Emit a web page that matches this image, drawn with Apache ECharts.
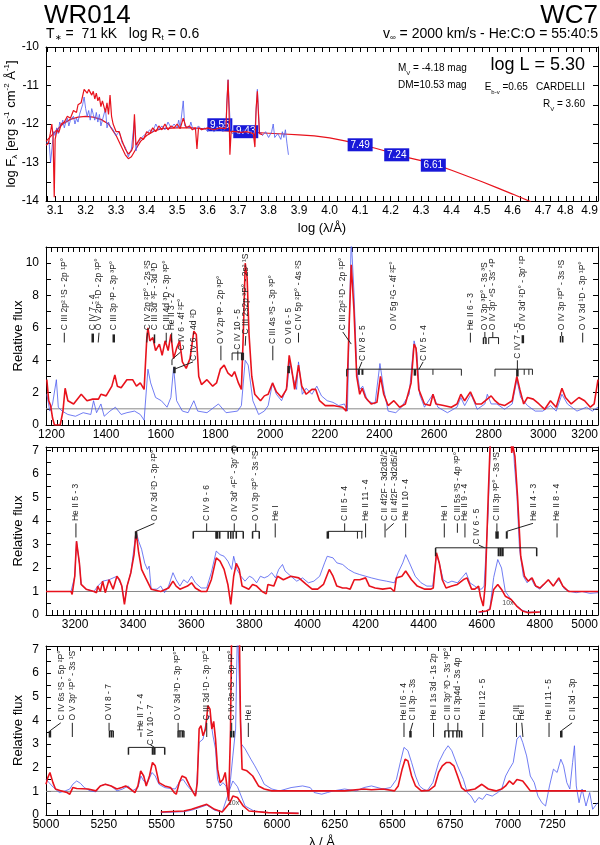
<!DOCTYPE html>
<html>
<head>
<meta charset="utf-8">
<script src="https://cdn.jsdelivr.net/npm/echarts@6/dist/echarts.min.js"></script>
<style>
html, body { margin: 0; padding: 0; background: #fff; }
#chart { width: 600px; height: 845px; }
</style>
</head>
<body>
<div id="chart"></div>
<script>
// ---------- panel 1 : spectral energy distribution (log lambda, log F) ----------
var sedObs = [[3.07,-12.5],[3.08,-12.45],[3.085,-13.0],[3.09,-12.6],[3.095,-12.2],[3.1,-12.3],[3.105,-12.1],[3.11,-12.25],[3.115,-11.95],[3.12,-12.05],[3.125,-11.9],[3.13,-12.1],[3.135,-11.95],[3.14,-11.85],[3.145,-12.05],[3.15,-11.9],[3.155,-11.95],[3.16,-11.8],[3.165,-12.0],[3.17,-11.85],[3.175,-11.95],[3.18,-11.75],[3.185,-11.8],[3.19,-11.5],[3.195,-11.3],[3.2,-11.6],[3.205,-11.8],[3.21,-11.65],[3.215,-11.9],[3.22,-11.6],[3.225,-11.75],[3.23,-11.9],[3.235,-11.7],[3.24,-11.95],[3.245,-11.75],[3.25,-12.05],[3.255,-11.9],[3.26,-11.85],[3.265,-11.6],[3.27,-12.1],[3.275,-11.95],[3.28,-12.05],[3.29,-12.15],[3.3,-12.3],[3.31,-12.2],[3.32,-12.5],[3.33,-12.6],[3.34,-12.85],[3.35,-12.65],[3.36,-11.9],[3.365,-12.7],[3.37,-12.5],[3.38,-12.4],[3.39,-12.3],[3.4,-12.25],[3.41,-12.15],[3.42,-12.2],[3.43,-12.0],[3.44,-12.15],[3.45,-12.05],[3.46,-12.15],[3.47,-11.95],[3.48,-12.1],[3.49,-12.0],[3.5,-12.1],[3.505,-11.9],[3.51,-12.1],[3.52,-11.4],[3.525,-12.05],[3.53,-12.0],[3.54,-12.1],[3.545,-11.95],[3.55,-12.1],[3.56,-12.15],[3.57,-12.05],[3.58,-12.15],[3.59,-12.1],[3.6,-12.2],[3.61,-12.1],[3.62,-12.2],[3.63,-12.15],[3.64,-12.1],[3.65,-12.2],[3.66,-12.1],[3.663,-11.4],[3.667,-10.85],[3.67,-11.4],[3.675,-12.1],[3.68,-12.25],[3.69,-12.2],[3.7,-12.25],[3.71,-12.2],[3.72,-12.15],[3.73,-12.25],[3.74,-12.2],[3.75,-12.3],[3.755,-12.2],[3.76,-11.5],[3.763,-11.1],[3.767,-11.7],[3.77,-12.2],[3.78,-12.3],[3.79,-12.2],[3.8,-12.35],[3.81,-12.2],[3.815,-12.0],[3.82,-12.35],[3.83,-12.25],[3.84,-12.4],[3.845,-12.2],[3.85,-12.35],[3.855,-12.15],[3.86,-12.5],[3.865,-12.8]];
var sedModel = [[3.07,-12.55],[3.078,-12.5],[3.084,-12.25],[3.089,-12.0],[3.093,-12.3],[3.097,-13.9],[3.1,-12.4],[3.106,-12.15],[3.112,-12.22],[3.12,-12.0],[3.13,-11.95],[3.14,-11.8],[3.15,-11.85],[3.16,-11.65],[3.17,-11.7],[3.175,-11.5],[3.18,-11.55],[3.185,-11.45],[3.19,-11.5],[3.195,-11.1],[3.2,-11.05],[3.205,-11.2],[3.21,-11.1],[3.215,-11.15],[3.22,-11.25],[3.225,-11.15],[3.23,-11.35],[3.235,-11.2],[3.24,-11.4],[3.245,-11.3],[3.25,-11.55],[3.255,-11.4],[3.26,-11.45],[3.265,-11.7],[3.27,-11.45],[3.275,-11.75],[3.28,-11.25],[3.285,-11.8],[3.29,-12.0],[3.3,-12.2],[3.31,-12.2],[3.32,-12.45],[3.33,-12.65],[3.34,-12.78],[3.35,-12.7],[3.355,-12.6],[3.36,-11.75],[3.365,-12.55],[3.37,-12.5],[3.38,-12.35],[3.39,-12.4],[3.4,-12.2],[3.41,-12.25],[3.42,-12.1],[3.43,-12.2],[3.44,-12.05],[3.45,-12.15],[3.46,-12.0],[3.47,-12.15],[3.48,-12.05],[3.49,-12.1],[3.5,-12.0],[3.51,-12.12],[3.52,-11.85],[3.53,-12.1],[3.54,-12.05],[3.55,-12.15],[3.56,-12.1],[3.565,-12.65],[3.57,-12.1],[3.58,-12.15],[3.6,-12.1],[3.62,-12.15],[3.64,-12.1],[3.66,-12.12],[3.663,-11.5],[3.667,-10.85],[3.67,-11.6],[3.673,-12.8],[3.677,-12.2],[3.69,-12.2],[3.71,-12.22],[3.73,-12.2],[3.75,-12.25],[3.755,-12.6],[3.759,-11.6],[3.763,-11.15],[3.767,-11.8],[3.77,-12.25],[3.78,-12.28]];
var sedCont = [[3.07,-12.45],[3.1,-12.2],[3.125,-12.0],[3.15,-11.88],[3.175,-11.82],[3.2,-11.8],[3.225,-11.82],[3.25,-11.88],[3.275,-12.0],[3.3,-12.3],[3.315,-12.55],[3.33,-12.8],[3.34,-12.9],[3.35,-12.85],[3.365,-12.65],[3.38,-12.45],[3.4,-12.3],[3.425,-12.18],[3.45,-12.12],[3.5,-12.1],[3.55,-12.1],[3.6,-12.13],[3.65,-12.17],[3.7,-12.2],[3.75,-12.22],[3.8,-12.24],[3.85,-12.26],[3.9,-12.28],[3.95,-12.31],[4.0,-12.36],[4.05,-12.44],[4.1,-12.53],[4.15,-12.63],[4.2,-12.74],[4.25,-12.86],[4.3,-12.95],[4.35,-13.06],[4.4,-13.2],[4.45,-13.35],[4.5,-13.5],[4.55,-13.66],[4.6,-13.82],[4.66,-14.02]];
var photLam = [3.64, 3.725, 4.1, 4.22, 4.34];
var photFlux = [-12.02, -12.2, -12.54, -12.8, -13.07];
var photMag = ['9.55', '9.43', '7.49', '7.24', '6.61'];

// ---------- panel 2 : UV 1180 - 3200 A ----------
var obs2 = [[1183,1.9],[1194,0.86],[1204,1.3],[1218,2.8],[1225,1.1],[1239,0.86],[1260,0.65],[1288,0.54],[1316,0.76],[1344,0.65],[1354,1.5],[1365,0.76],[1381,1.3],[1393,0.54],[1414,0.86],[1434,1.1],[1455,0.65],[1476,0.76],[1504,0.86],[1525,0.65],[1539,0.3],[1546,0.3],[1553,3.45],[1563,2.6],[1581,1.7],[1602,1.5],[1623,1.1],[1637,1.7],[1647,3.55],[1658,1.5],[1679,0.86],[1700,0.76],[1721,1.5],[1735,0.86],[1769,0.76],[1811,1.3],[1839,0.76],[1881,0.86],[1895,1.2],[1909,4.0],[1920,3.7],[1937,1.5],[1958,0.65],[1979,0.86],[1993,1.2],[2009,2.6],[2023,1.9],[2042,1.5],[2063,2.4],[2071,3.9],[2083,3.0],[2097,2.2],[2104,3.9],[2118,1.9],[2132,2.27],[2153,1.9],[2171,2.4],[2188,1.8],[2209,1.5],[2230,1.4],[2251,1.2],[2272,1.3],[2283,0.86],[2289,5.6],[2297,11.5],[2307,8.2],[2317,3.45],[2328,2.2],[2339,2.4],[2356,1.5],[2384,1.3],[2402,3.8],[2416,2.2],[2432,0.86],[2460,0.76],[2481,1.1],[2509,1.9],[2527,5.2],[2537,4.5],[2547,1.9],[2565,1.1],[2596,1.9],[2614,1.1],[2649,0.76],[2684,1.1],[2698,1.7],[2712,1.2],[2735,1.9],[2758,0.97],[2786,1.3],[2795,1.9],[2809,1.3],[2830,1.3],[2858,0.97],[2886,1.3],[2903,2.8],[2917,1.7],[2942,1.2],[2970,0.86],[2998,0.86],[3026,1.2],[3047,0.86],[3068,1.9],[3088,1.3],[3123,0.86],[3158,1.1],[3179,0.86],[3200,1.1]];
var mod2 = [[1183,2.8],[1190,1.5],[1197,1.2],[1204,0.43],[1211,0],[1232,0],[1242,0.86],[1250,2.27],[1260,1.5],[1281,1.3],[1309,1.9],[1330,1.5],[1351,1.6],[1372,1.6],[1381,1.9],[1400,1.8],[1421,2.4],[1432,3.1],[1441,2.4],[1455,2.3],[1476,2.8],[1497,2.8],[1511,2.4],[1525,2.6],[1539,2.2],[1546,2.2],[1549,5.4],[1553,6.0],[1560,5.2],[1571,5.4],[1581,4.6],[1595,5.0],[1605,4.3],[1616,5.2],[1627,4.6],[1637,5.6],[1647,4.1],[1658,4.75],[1669,5.2],[1679,3.9],[1693,3.5],[1707,4.1],[1721,5.8],[1730,5.6],[1739,3.0],[1749,2.5],[1769,2.8],[1790,2.4],[1804,2.6],[1818,3.45],[1832,3.7],[1846,3.2],[1860,3.0],[1870,3.3],[1884,2.6],[1895,2.2],[1902,5.6],[1909,10.0],[1916,9.1],[1923,5.6],[1933,3.0],[1944,1.9],[1965,1.5],[1979,1.8],[1993,1.9],[2009,2.6],[2023,2.05],[2042,1.7],[2060,2.2],[2070,4.3],[2079,3.45],[2090,2.2],[2104,3.7],[2116,2.4],[2132,1.9],[2153,2.2],[2167,2.2],[2181,1.5],[2202,1.2],[2230,1.2],[2265,1.1],[2279,0.86],[2286,4.5],[2297,9.9],[2307,7.1],[2317,3.0],[2328,1.9],[2337,2.27],[2349,1.7],[2370,1.3],[2391,1.4],[2404,3.0],[2416,1.9],[2432,1.2],[2453,1.5],[2474,1.1],[2495,1.3],[2516,2.6],[2527,5.0],[2534,4.75],[2544,2.2],[2565,1.3],[2586,1.2],[2596,1.9],[2607,1.3],[2635,1.2],[2663,1.1],[2684,1.3],[2698,1.9],[2712,1.5],[2733,2.05],[2753,1.3],[2774,1.3],[2788,1.5],[2809,1.8],[2823,1.5],[2837,1.3],[2858,1.2],[2886,1.5],[2903,3.0],[2914,2.2],[2928,1.3],[2942,1.7],[2963,1.6],[2984,1.3],[3005,0.97],[3026,1.5],[3047,1.1],[3068,2.27],[3081,1.7],[3102,1.3],[3130,1.7],[3151,1.5],[3172,1.1],[3186,1.3],[3200,2.8]];

// ---------- panel 3 : 3100 - 5000 A ----------
var obs3 = [[3100,1.0],[3186,1.0],[3199,1.65],[3205,3.14],[3215,2.2],[3221,1.3],[3238,1.1],[3265,1.0],[3278,1.23],[3295,1.44],[3317,1.5],[3344,1.65],[3361,1.23],[3370,0.52],[3379,1.23],[3392,1.8],[3410,3.56],[3419,3.14],[3429,2.8],[3440,2.2],[3449,1.94],[3455,2.08],[3462,1.1],[3482,1.1],[3495,1.23],[3508,0.95],[3522,1.23],[3537,1.8],[3548,1.5],[3561,1.23],[3574,1.5],[3587,1.37],[3601,1.65],[3614,1.37],[3634,1.15],[3653,1.15],[3669,1.8],[3686,2.72],[3699,2.57],[3713,2.5],[3726,2.29],[3739,1.94],[3746,2.5],[3757,1.94],[3771,1.65],[3785,1.44],[3800,1.65],[3811,1.58],[3825,1.37],[3838,1.65],[3851,1.58],[3864,1.65],[3877,1.8],[3890,1.58],[3901,1.94],[3914,2.15],[3923,1.87],[3943,1.65],[3963,1.44],[3983,1.58],[4003,1.37],[4022,1.44],[4042,1.65],[4059,2.22],[4068,2.5],[4088,2.43],[4101,2.22],[4121,2.15],[4141,1.94],[4161,1.8],[4180,1.72],[4200,1.65],[4220,1.58],[4246,1.5],[4272,1.44],[4299,1.37],[4312,1.8],[4328,2.22],[4338,2.57],[4351,2.22],[4371,1.65],[4391,1.37],[4411,1.23],[4431,1.23],[4444,2.57],[4454,2.2],[4467,1.5],[4483,1.37],[4497,1.44],[4516,1.37],[4536,1.65],[4546,1.8],[4559,1.37],[4576,1.23],[4589,1.1],[4599,1.1],[4608,1.23],[4622,4.34],[4631,8],[4705,8],[4712,6.46],[4721,5.05],[4730,2.79],[4743,1.65],[4756,1.37],[4769,1.58],[4783,1.23],[4800,1.1],[4829,1.5],[4846,1.23],[4865,1.5],[4885,1.1],[4905,1.0],[4925,0.95],[4945,1.0],[4972,0.92],[5000,0.95]];
var mod3 = [[3100,1.0],[3186,1.0],[3190,0.88],[3199,1.65],[3205,3.14],[3215,2.2],[3221,1.3],[3238,1.1],[3265,1.0],[3274,0.95],[3278,1.23],[3287,1.0],[3295,1.44],[3304,0.95],[3317,1.5],[3331,1.1],[3344,1.65],[3353,1.5],[3361,1.23],[3370,0.45],[3379,1.23],[3392,1.8],[3403,2.57],[3410,3.56],[3419,2.65],[3429,1.94],[3443,1.58],[3462,1.1],[3495,1.0],[3522,1.15],[3537,1.44],[3548,1.23],[3561,1.1],[3587,1.23],[3601,1.37],[3614,1.15],[3634,1.0],[3653,1.0],[3669,1.5],[3686,2.43],[3699,2.29],[3713,1.94],[3726,1.3],[3736,0.45],[3746,1.65],[3755,2.2],[3765,1.94],[3775,1.23],[3798,1.1],[3811,1.3],[3825,1.23],[3844,1.0],[3858,0.9],[3864,1.3],[3884,1.23],[3897,1.65],[3917,1.5],[3943,1.65],[3970,1.58],[3996,1.3],[4016,1.1],[4035,1.1],[4055,1.3],[4075,1.94],[4088,1.65],[4101,1.23],[4121,1.15],[4134,1.15],[4147,1.1],[4161,1.5],[4180,1.5],[4200,1.58],[4213,1.23],[4233,1.15],[4259,1.1],[4286,1.15],[4299,1.0],[4306,1.58],[4325,1.65],[4338,1.87],[4358,1.5],[4378,1.23],[4404,1.1],[4424,1.1],[4433,1.15],[4444,2.65],[4454,2.2],[4464,1.5],[4477,1.15],[4497,1.23],[4516,1.3],[4536,1.5],[4549,1.58],[4565,1.1],[4576,1.1],[4589,1.23],[4595,0.8],[4605,0.38],[4612,1.3],[4622,5.0],[4631,8],[4700,8],[4703,6.9],[4707,7.2],[4714,6.75],[4723,5.05],[4734,2.5],[4747,1.65],[4760,1.44],[4773,1.58],[4786,1.23],[4800,1.15],[4813,1.3],[4829,1.5],[4846,1.23],[4865,1.58],[4879,1.23],[4899,1.0],[4918,1.0],[4945,1.0],[5000,1.0]];
var obs3x10 = [[4589,0.1],[4615,0.15],[4628,0.3],[4641,1.6],[4655,2.36],[4668,2.0],[4681,1.0],[4701,0.66],[4720,0.4],[4740,0.2],[4760,0.12],[4800,0.12]];
var mod3x10 = [[4589,0.13],[4615,0.17],[4628,0.24],[4641,1.09],[4655,1.3],[4668,1.09],[4681,0.8],[4701,0.66],[4720,0.38],[4740,0.17],[4760,0.1],[4800,0.13]];

// ---------- panel 4 : 5000 - 7390 A ----------
var obs4 = [[5000,1.51],[5013,1.37],[5033,1.16],[5058,0.95],[5083,1.02],[5103,1.1],[5116,1.3],[5133,1.44],[5149,1.34],[5166,1.16],[5191,1.02],[5216,0.98],[5235,1.23],[5257,1.3],[5282,1.23],[5307,1.02],[5332,1.1],[5356,1.23],[5373,1.02],[5398,1.16],[5411,1.65],[5423,1.44],[5439,1.37],[5459,1.8],[5473,1.65],[5489,1.3],[5514,1.16],[5539,1.12],[5560,1.1],[5580,1.44],[5594,1.5],[5613,1.23],[5638,0.95],[5650,0.88],[5663,3.07],[5680,3.21],[5696,4.06],[5710,4.2],[5723,3.35],[5734,2.79],[5743,1.5],[5754,1.23],[5766,1.37],[5779,1.23],[5791,0.8],[5799,1.51],[5809,2.5],[5821,3.64],[5829,8],[5837,8],[5846,3.0],[5862,2.8],[5887,2.36],[5904,2.08],[5928,1.65],[5945,1.3],[5978,1.1],[6011,1.02],[6061,1.16],[6111,1.23],[6144,1.16],[6161,0.95],[6194,0.88],[6219,0.95],[6244,1.02],[6293,1.1],[6343,1.02],[6376,1.16],[6409,1.23],[6459,1.1],[6492,1.16],[6517,1.5],[6534,2.22],[6550,2.86],[6567,2.72],[6583,2.22],[6600,1.65],[6617,1.23],[6633,1.1],[6650,1.02],[6675,1.37],[6700,2.22],[6724,2.69],[6741,2.93],[6757,2.72],[6782,2.08],[6807,1.51],[6824,0.95],[6840,0.8],[6857,0.52],[6874,0.74],[6890,0.66],[6907,0.88],[6932,0.8],[6956,0.95],[6973,1.1],[6990,1.65],[7006,1.94],[7023,2.22],[7039,3.21],[7053,3.36],[7064,3.07],[7081,2.5],[7097,1.65],[7114,1.37],[7130,0.8],[7147,0.52],[7163,0.38],[7180,1.23],[7197,1.94],[7213,1.8],[7229,2.36],[7241,2.08],[7255,1.37],[7268,1.1],[7280,2.22],[7288,2.93],[7296,1.23],[7308,0.52],[7321,1.1],[7338,0.38],[7354,0.95],[7367,0.24],[7388,0.52]];
var mod4 = [[5000,1.3],[5008,1.58],[5017,1.8],[5030,1.37],[5041,1.1],[5066,1.02],[5091,0.95],[5103,0.88],[5116,1.16],[5133,1.12],[5182,1.1],[5216,1.02],[5235,1.23],[5257,1.3],[5282,1.23],[5307,1.1],[5328,1.16],[5345,1.23],[5365,1.1],[5385,0.95],[5398,1.23],[5410,1.87],[5423,1.65],[5434,1.23],[5448,1.65],[5461,2.22],[5473,2.08],[5489,1.37],[5514,1.23],[5539,1.16],[5555,0.95],[5564,0.88],[5577,1.37],[5589,1.65],[5605,1.58],[5622,1.23],[5638,0.95],[5647,0.8],[5655,1.37],[5663,3.64],[5671,3.78],[5680,3.35],[5691,3.64],[5701,4.63],[5710,4.48],[5718,3.64],[5726,3.96],[5734,3.21],[5743,1.94],[5754,1.37],[5766,1.5],[5776,1.8],[5783,1.23],[5791,0.6],[5799,3.64],[5804,8],[5837,8],[5842,4.0],[5849,1.94],[5870,1.87],[5895,1.65],[5920,1.23],[5945,1.1],[5978,1.02],[6127,1.02],[6293,1.02],[6376,1.1],[6409,1.07],[6459,1.1],[6509,1.02],[6525,1.23],[6542,1.94],[6555,2.36],[6567,2.29],[6583,1.65],[6600,1.23],[6625,1.02],[6658,1.04],[6683,1.23],[6700,1.8],[6716,2.08],[6733,2.22],[6749,2.22],[6766,2.08],[6782,1.65],[6799,1.16],[6816,1.02],[6857,1.1],[6887,1.3],[6915,1.1],[6948,1.02],[6973,1.1],[6990,1.23],[7006,1.44],[7023,1.3],[7039,1.5],[7064,1.44],[7081,1.23],[7097,1.02],[7122,1.02],[7338,1.02]];
var obs4x10 = [[5497,0.1],[5597,0.14],[5630,0.2],[5696,0.42],[5730,0.2],[5763,0.13],[5796,1.09],[5809,1.44],[5829,1.2],[5862,0.38],[5900,0.17],[5962,0.1],[6094,0.08]];
var mod4x10 = [[5497,0.13],[5597,0.17],[5630,0.24],[5696,0.45],[5730,0.24],[5763,0.13],[5796,0.52],[5809,0.8],[5829,0.74],[5854,0.38],[5879,0.17],[5962,0.1],[6094,0.07]];

// ---------- line identifications ----------
var idLam2 = [1247,1351,1374,1428,1551,1577,1620,1640,1675,1722,1820,1882,1911,2010,2068,2104,2264,2338,2453,2563,2733,2787,2815,2905,2925,3068,3144];
var idY2 = [5.85,5.85,5.85,5.85,5.85,5.85,5.85,5.85,4.6,3.95,5.0,4.65,5.6,5.0,5.0,5.85,5.85,3.95,5.85,3.95,5.85,5.85,5.85,4.1,5.85,5.85,5.85];
var idText2 = ['C III 2p² ¹S - 2p ¹P°','C IV 7 - 4','O V 2p² ¹D - 2p ¹P°','C III 3p ³P - 3p ³P°','C IV 2p ²P° - 2s ²S',"C III 3d' ³F - 3d ³D",'C III 4d ³D - 3p ³P°','He II 3 - 2','C IV 6 - 4f ²F°','C IV 6 - 4d ²D','O V 2p ³P - 2p ³P°','C IV 10 - 5','C III 2s2p ³P° - 2s² ¹S','C III 4s ³S - 3p ³P°','O VI 6 - 5','C IV 5p ²P° - 4s ²S','C III 2p² ¹D - 2p ¹P°','C IV 8 - 5','O IV 5g ²G - 4f ²F°','C IV 5 - 4','He II 6 - 3','O V 3p ³P° - 3s ³S',"O IV 3p' ⁴S - 3s' ⁴P",'C IV 7 - 5',"O IV 3d' ²D° - 3p' ²P",'O IV 3p ²P° - 3s ²S','O V 3d ¹D - 3p ¹P°'];
var seg2 = [[1247,5.1,1247,5.7,1],[1351,5.1,1351,5.65,2.5],[1371,5.1,1374,5.7,1],[1428,5.1,1428,5.6,2.5],[1549,5.1,1551,5.7,1],[1577,5.05,1577,5.6,1.5],[1620,5.1,1620,5.7,1],[1640,5.1,1640,5.7,1],[1641,3.7,1641,4.05,1],[1641,4.05,1672,4.5,1],[1650,3.2,1650,3.6,2.5],[1650,3.45,1718,3.9,1],[1820,4.0,1820,4.9,1],[1861,4.45,1903,4.45,1],[1861,4.45,1861,4.0,1],[1882,4.45,1882,4.0,1],[1897,4.45,1897,4.0,2],[1903,4.45,1903,4.0,1],[1882,4.45,1882,4.6,1],[1909,4.9,1911,5.5,1],[2010,4.0,2010,4.9,1],[2068,3.2,2068,3.65,2.5],[2104,5.1,2104,5.7,1],[2297,5.0,2266,5.75,1],[2280,3.45,2700,3.45,1],[2280,3.45,2280,3.0,1],[2325,3.45,2325,3.1,2],[2338,3.45,2338,3.1,2],[2530,3.45,2530,3.05,2.5],[2596,3.45,2596,3.1,1],[2700,3.45,2700,3.05,1],[2325,3.45,2336,3.9,1],[2545,3.45,2560,3.9,1],[2733,5.1,2733,5.7,1],[2781,5.0,2781,5.4,1.5],[2790,5.0,2790,5.4,1.5],[2781,5.4,2790,5.4,1],[2786,5.4,2786,5.75,1],[2800,5.0,2800,5.4,1],[2836,5.0,2836,5.4,1],[2800,5.4,2836,5.4,1],[2815,5.4,2815,5.75,1],[2823,3.45,2960,3.45,1],[2823,3.45,2823,3.0,1],[2905,3.45,2905,3.0,2.5],[2930,3.45,2930,3.1,1],[2947,3.45,2947,3.1,1],[2960,3.45,2960,3.1,1],[2905,3.45,2905,4.0,1],[2925,5.05,2925,5.55,2.5],[3063,5.1,3063,5.5,1.5],[3071,5.1,3071,5.5,1.5],[3067,5.5,3067,5.75,1],[3144,5.1,3144,5.7,1]];

var idLam3 = [3203,3475,3653,3748,3822,3889,4128,4200,4267,4299,4338,4471,4516,4542,4582,4652,4778,4859];
var idY3 = [4.0,4.0,4.0,4.0,4.0,4.0,4.0,4.0,4.0,4.0,4.0,4.0,4.0,4.0,3.0,4.0,4.0,4.0];
var idText3 = ['He II 5 - 3','O IV 3d ²D - 3p ²P°','C IV 9 - 6',"O IV 3d' ⁴F° - 3p' ⁴D",'O VI 3p ²P° - 3s ²S','He I','C III 5 - 4','He II 11 - 4','C II 4f2F - 3d2d3/2','C II 4f2F - 3d2d5/2','He II 10 - 4','He I','C III 5s ³S - 4p ³P°','He II 9 - 4','C IV 6 - 5','C III 3p ³P° - 3s ³S','He II 4 - 3','He II 8 - 4'];
var seg3 = [[3203,3.3,3203,3.9,1],[3410,3.25,3410,3.56,2.5],[3410,3.56,3473,3.9,1],[3607,3.56,3779,3.56,1],[3607,3.56,3607,3.25,1.5],[3686,3.56,3686,3.25,2],[3690,3.56,3690,3.25,2],[3698,3.56,3698,3.25,1.5],[3727,3.56,3727,3.25,1.5],[3736,3.56,3736,3.25,1.5],[3744,3.56,3744,3.25,1.5],[3755,3.56,3755,3.25,1.5],[3779,3.56,3779,3.25,1.5],[3653,3.56,3653,3.9,1],[3748,3.56,3748,3.9,1],[3811,3.25,3811,3.56,1.5],[3834,3.25,3834,3.56,1.5],[3811,3.56,3834,3.56,1],[3822,3.56,3822,3.9,1],[3889,3.3,3889,3.9,1],[4070,3.56,4190,3.56,1],[4070,3.56,4070,3.25,2.5],[4172,3.56,4172,3.25,1],[4187,3.56,4187,3.25,1],[4128,3.56,4128,3.9,1],[4200,3.3,4200,3.9,1],[4267,3.3,4267,3.9,1],[4270,3.6,4297,3.9,1],[4338,3.3,4338,3.9,1],[4471,3.3,4471,3.9,1],[4516,3.5,4516,3.9,1],[4542,3.3,4542,3.9,1],[4441,2.86,4789,2.86,1],[4441,2.86,4441,2.5,1.5],[4658,2.86,4658,2.5,2],[4665,2.86,4665,2.5,2],[4672,2.86,4672,2.5,2],[4789,2.86,4789,2.5,1.5],[4610,2.86,4590,2.97,1],[4650,3.25,4650,3.56,2],[4655,3.25,4655,3.56,2],[4652,3.56,4652,3.9,1],[4686,3.25,4686,3.56,2],[4686,3.56,4776,3.9,1],[4859,3.3,4859,3.9,1]];

var idLam4 = [5066,5114,5273,5411,5455,5572,5696,5804,5876,6550,6588,6678,6741,6783,6891,7037,7060,7178,7280];
var idY4 = [4.0,4.0,4.0,3.55,2.95,4.0,4.0,4.0,4.0,4.0,4.0,4.0,4.0,4.0,4.0,4.0,4.0,4.0,4.0];
var idText4 = ['C IV 6s ²S - 5p ²P°',"O V 3p' ¹P° - 3s ¹S",'O VI 8 - 7','He II 7 - 4','C IV 10 - 7','O V 3d ³D - 3p ³P°','C III 3d ¹D - 3p ¹P°','C IV 3s ²S - 3p ²P°','He I','He II 6 - 4','C II 3p - 3s','He I 1s 3d - 1s 2p',"C III 3p' ³D - 3s' ³P°",'C II 3p4d - 3s 4p','He II 12 - 5','C III','He I','He II 11 - 5','C II 3d - 3p'];
var seg4 = [[5017,3.28,5017,3.56,2.5],[5017,3.56,5064,3.9,1],[5114,3.3,5114,3.9,1],[5275,3.28,5275,3.56,1.5],[5283,3.28,5283,3.56,1.5],[5291,3.28,5291,3.56,1.5],[5275,3.56,5291,3.56,1],[5273,3.56,5273,3.9,1],[5411,3.3,5411,3.5,1],[5357,2.86,5514,2.86,1],[5357,2.86,5357,2.55,1.5],[5462,2.86,5462,2.55,2],[5470,2.86,5470,2.55,2],[5514,2.86,5514,2.55,1.5],[5470,2.86,5452,2.97,1],[5572,3.28,5572,3.56,1.5],[5580,3.28,5580,3.56,1.5],[5590,3.28,5590,3.56,1.5],[5597,3.28,5597,3.56,1.5],[5572,3.56,5597,3.56,1],[5572,3.56,5572,3.9,1],[5696,3.3,5696,3.9,1],[5801,3.28,5801,3.56,2],[5812,3.28,5812,3.56,2],[5804,3.56,5804,3.9,1],[5876,3.3,5876,3.9,1],[6550,3.3,6550,3.9,1],[6578,3.28,6578,3.56,2.5],[6578,3.56,6588,3.9,1],[6678,3.3,6678,3.9,1],[6727,3.28,6727,3.56,1.5],[6744,3.28,6744,3.56,1.5],[6762,3.28,6762,3.56,1.5],[6779,3.28,6779,3.56,1.5],[6790,3.28,6790,3.56,1.5],[6800,3.28,6800,3.56,1.5],[6727,3.56,6800,3.56,1],[6741,3.56,6741,3.9,1],[6783,3.56,6783,3.9,1],[6891,3.3,6891,3.9,1],[7037,3.3,7037,3.9,1],[7065,3.3,7060,3.9,1],[7178,3.3,7178,3.9,1],[7231,3.28,7231,3.56,2.5],[7231,3.56,7278,3.9,1]];

// ---------- tick labels ----------
var xLab1 = [3.1,3.2,3.3,3.4,3.5,3.6,3.7,3.8,3.9,4.0,4.1,4.2,4.3,4.4,4.5,4.6,4.7,4.8];
var xLab2 = [1200,1400,1600,1800,2000,2200,2400,2600,2800,3000,3200];
var xLab3 = [3200,3400,3600,3800,4000,4200,4400,4600,4800,5000];
var xLab4 = [5000,5250,5500,5750,6000,6250,6500,6750,7000,7250];
var yLab1 = [-14,-13,-12,-11,-10];
var yLab2 = [0,2,4,6,8,10];
var yLab34 = [0,1,2,3,4,5,6,7];

function steps(a, b, d) {
  var out = [];
  for (var v = a; v <= b + 1e-9; v += d) out.push(Math.round(v * 1000) / 1000);
  return out;
}

var FONT = 'Liberation Sans, Arial, Helvetica, sans-serif';
var RED = '#e8121c', BLUE = '#4c5cf0';

var grids = [
  { left: 46, top: 47, width: 552, height: 154 },
  { left: 46, top: 247, width: 552, height: 178 },
  { left: 46, top: 447, width: 552, height: 168 },
  { left: 46, top: 646, width: 552, height: 169 }
].map(function (g) { g.containLabel = false; g.outerBoundsMode = 'none'; return g; });

var xAxes = [], yAxes = [];
function addAxes(gi, xr, xLab, xTicks, yr, yLab, yTicks, xName, yName, yNameGap) {
  var line = { show: true, onZero: false, lineStyle: { color: '#000', width: 1 } };
  xAxes.push({
    gridIndex: gi, type: 'value', position: 'bottom', min: xr[0], max: xr[1],
    axisLine: line, splitLine: { show: false },
    axisTick: { inside: true, length: 5, customValues: xTicks, lineStyle: { color: '#000' } },
    axisLabel: { customValues: xLab, color: '#000', fontSize: 12, fontFamily: FONT, margin: 4,
      alignMaxLabel: 'right', formatter: function (v) { return gi === 0 ? v.toFixed(1) : String(v); } },
    name: xName, nameLocation: 'middle', nameGap: 21, nameMoveOverlap: false,
    nameTextStyle: { color: '#000', fontSize: 13, fontFamily: FONT }
  });
  xAxes.push({
    gridIndex: gi, type: 'value', position: 'top', min: xr[0], max: xr[1],
    axisLine: line, splitLine: { show: false }, axisLabel: { show: false },
    axisTick: { inside: true, length: 5, customValues: xTicks, lineStyle: { color: '#000' } }
  });
  yAxes.push({
    gridIndex: gi, type: 'value', position: 'left', min: yr[0], max: yr[1],
    axisLine: line, splitLine: { show: false },
    axisTick: { inside: true, length: 5, customValues: yTicks, lineStyle: { color: '#000' } },
    axisLabel: { customValues: yLab, color: '#000', fontSize: 12, fontFamily: FONT, margin: 7 },
    name: yName, nameLocation: 'middle', nameGap: yNameGap, nameRotate: 90, nameMoveOverlap: false,
    nameTextStyle: {
      color: '#000', fontSize: 13, fontFamily: FONT,
      rich: {
        a: { fontSize: 13, fontFamily: FONT, lineHeight: 16 },
        b: { fontSize: 8, fontFamily: FONT, lineHeight: 16, verticalAlign: 'bottom', padding: [6, 0, 0, 0] },
        c: { fontSize: 8, fontFamily: FONT, lineHeight: 16, verticalAlign: 'top', padding: [0, 0, 6, 0] }
      }
    }
  });
  yAxes.push({
    gridIndex: gi, type: 'value', position: 'right', min: yr[0], max: yr[1],
    axisLine: line, splitLine: { show: false }, axisLabel: { show: false },
    axisTick: { inside: true, length: 5, customValues: yTicks, lineStyle: { color: '#000' } }
  });
}

addAxes(0, [3.07, 4.88], xLab1, steps(3.075, 4.875, 0.025), [-14, -10], yLab1, steps(-14, -10, 0.5),
  'log (λ/Å)', '{a|log F}{b|λ}{a| [erg s}{c|-1}{a| cm}{c|-2}{a| Å}{c|-1}{a|]}', 27);
addAxes(1, [1180, 3200], xLab2, steps(1180, 3200, 20), [0, 11], yLab2, steps(0, 11, 1), '', 'Relative flux', 21);
addAxes(2, [3100, 5000], xLab3, steps(3100, 5000, 20), [0, 7.15], yLab34, steps(0, 7, 0.5), '', 'Relative flux', 21);
addAxes(3, [5000, 7390], xLab4, steps(5000, 7350, 50), [0, 7.15], yLab34, steps(0, 7, 0.5), 'λ / Å', 'Relative flux', 21);

function lineSeries(gi, data, color, width, z) {
  return {
    type: 'line', xAxisIndex: gi * 2, yAxisIndex: gi * 2, data: data,
    symbol: 'none', showSymbol: false, clip: true, silent: true, z: z,
    lineStyle: { color: color, width: width }
  };
}

function segSeries(gi, segs) {
  return {
    type: 'custom', xAxisIndex: gi * 2, yAxisIndex: gi * 2, silent: true, z: 6, clip: false,
    data: segs,
    renderItem: function (params, api) {
      var p1 = api.coord([api.value(0), api.value(1)]);
      var p2 = api.coord([api.value(2), api.value(3)]);
      return { type: 'line', shape: { x1: p1[0], y1: p1[1], x2: p2[0], y2: p2[1] },
        style: { stroke: '#222', lineWidth: api.value(4) } };
    }
  };
}

function idSeries(gi, lams, ys, texts) {
  return {
    type: 'custom', xAxisIndex: gi * 2, yAxisIndex: gi * 2, silent: true, z: 6, clip: false,
    data: lams.map(function (l, i) { return [l, ys[i], i]; }),
    renderItem: function (params, api) {
      var p = api.coord([api.value(0), api.value(1)]);
      return {
        type: 'text', x: p[0], y: p[1], rotation: Math.PI / 2,
        style: { text: texts[api.value(2)], fill: '#222', fontSize: 8.5, fontFamily: FONT,
          align: 'left', verticalAlign: 'middle', textAlign: 'left', textVerticalAlign: 'middle' }
      };
    }
  };
}

function unitLine(gi, x0, x1) {
  return lineSeries(gi, [[x0, 1], [x1, 1]], '#8a8a8a', 1, 1);
}

var series = [
  lineSeries(0, sedCont, RED, 1.2, 2),
  {
    type: 'scatter', xAxisIndex: 0, yAxisIndex: 0, z: 3, silent: true,
    data: photLam.map(function (l, i) { return [l, photFlux[i]]; }),
    symbol: 'rect', symbolSize: [25, 13], itemStyle: { color: '#1818d8', opacity: 1 },
    label: { show: true, position: 'inside', color: '#fff', fontSize: 10, fontFamily: FONT,
      formatter: function (p) { return photMag[p.dataIndex]; } }
  },
  lineSeries(0, sedObs, BLUE, 0.8, 4),
  lineSeries(0, sedModel, RED, 1.2, 5),

  unitLine(1, 1180, 3200),
  lineSeries(1, obs2, BLUE, 0.8, 3),
  lineSeries(1, mod2, RED, 1.6, 4),
  segSeries(1, seg2),
  idSeries(1, idLam2, idY2, idText2),

  unitLine(2, 3100, 5000),
  lineSeries(2, obs3, BLUE, 0.8, 3),
  lineSeries(2, mod3, RED, 1.6, 4),
  lineSeries(2, obs3x10, BLUE, 0.8, 3),
  lineSeries(2, mod3x10, RED, 1.6, 4),
  segSeries(2, seg3),
  idSeries(2, idLam3, idY3, idText3),

  unitLine(3, 5000, 7390),
  lineSeries(3, obs4, BLUE, 0.8, 3),
  lineSeries(3, mod4, RED, 1.6, 4),
  lineSeries(3, obs4x10, BLUE, 0.8, 3),
  lineSeries(3, mod4x10, RED, 1.6, 4),
  segSeries(3, seg4),
  idSeries(3, idLam4, idY4, idText4),

  // "10x" markers on the scaled-down profiles
  {
    type: 'scatter', xAxisIndex: 4, yAxisIndex: 4, symbolSize: 0, silent: true, z: 6,
    data: [[4690, 0.52]],
    label: { show: true, position: 'inside', formatter: '10x', fontSize: 7, color: '#222', fontFamily: FONT }
  },
  {
    type: 'scatter', xAxisIndex: 6, yAxisIndex: 6, symbolSize: 0, silent: true, z: 6,
    data: [[5812, 0.52]],
    label: { show: true, position: 'inside', formatter: '10x', fontSize: 7, color: '#222', fontFamily: FONT }
  }
];

var sub = { fontSize: 8, fontFamily: FONT, lineHeight: 16, verticalAlign: 'bottom', padding: [5, 0, 0, 0] };
var subSmall = { fontSize: 6, fontFamily: FONT, lineHeight: 16, verticalAlign: 'bottom', padding: [4, 0, 0, 0] };
function rt(size) { return { fontSize: size, fontFamily: FONT, lineHeight: 16, fill: '#000' }; }

var graphic = [
  { type: 'text', x: 44, y: 3, silent: true,
    style: { text: 'WR014', font: '26px ' + FONT, fill: '#000', align: 'left', verticalAlign: 'top' } },
  { type: 'text', x: 598, y: 3, silent: true,
    style: { text: 'WC7', font: '26px ' + FONT, fill: '#000', align: 'right', verticalAlign: 'top' } },
  { type: 'text', x: 46, y: 26, silent: true,
    style: { text: '{a|T}{s|∗}{a| =  71 kK   log R}{s|t}{a| = 0.6}', align: 'left', verticalAlign: 'top',
      rich: { a: rt(14), s: sub } } },
  { type: 'text', x: 598, y: 26, silent: true,
    style: { text: '{a|v}{s|∞}{a| = 2000 km/s - He:C:O = 55:40:5}', align: 'right', verticalAlign: 'top',
      rich: { a: rt(14), s: sub } } },
  { type: 'text', x: 398, y: 60, silent: true,
    style: { text: '{a|M}{s|V}{a| = -4.18 mag}', align: 'left', verticalAlign: 'top',
      rich: { a: rt(10), s: subSmall } } },
  { type: 'text', x: 585, y: 56, silent: true,
    style: { text: 'log L = 5.30', font: '18px ' + FONT, fill: '#000', align: 'right', verticalAlign: 'top' } },
  { type: 'text', x: 398, y: 80, silent: true,
    style: { text: 'DM=10.53 mag', font: '10px ' + FONT, fill: '#000', align: 'left', verticalAlign: 'top' } },
  { type: 'text', x: 585, y: 79, silent: true,
    style: { text: '{a|E}{s|b-v}{a| =0.65   CARDELLI}', align: 'right', verticalAlign: 'top',
      rich: { a: rt(10), s: subSmall } } },
  { type: 'text', x: 585, y: 96, silent: true,
    style: { text: '{a|R}{s|V}{a| = 3.60}', align: 'right', verticalAlign: 'top',
      rich: { a: rt(10), s: subSmall } } },
  { type: 'text', x: 598, y: 205, silent: true,
    style: { text: '4.9', font: '12px ' + FONT, fill: '#000', align: 'right', verticalAlign: 'top' } }
];

var chart = echarts.init(document.getElementById('chart'), null, { renderer: 'canvas' });
chart.setOption({
  animation: false,
  backgroundColor: '#fff',
  grid: grids,
  xAxis: xAxes,
  yAxis: yAxes,
  series: series,
  graphic: graphic
});
</script>
</body>
</html>
